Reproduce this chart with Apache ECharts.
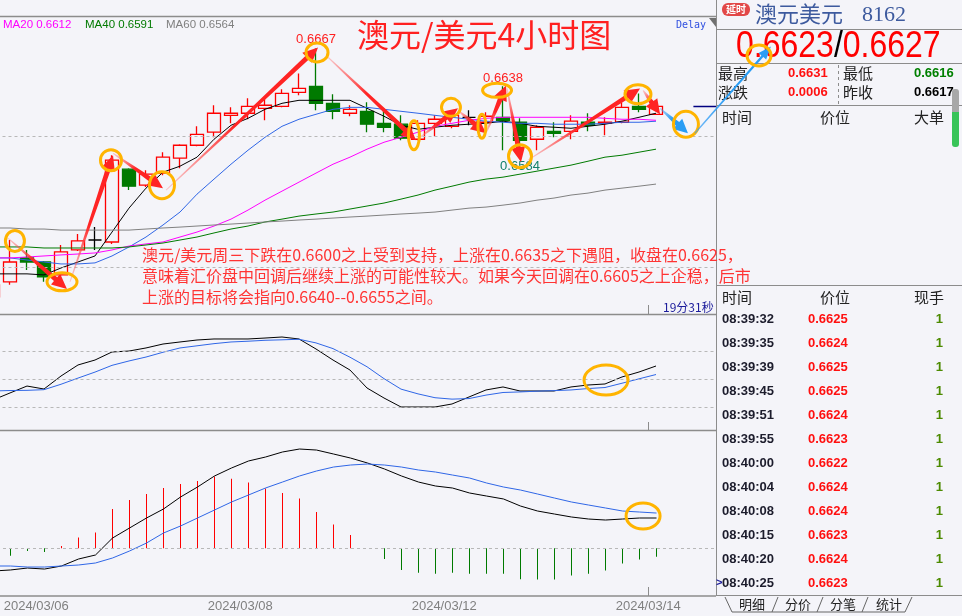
<!DOCTYPE html>
<html><head><meta charset="utf-8">
<script src="https://cdn.jsdelivr.net/npm/echarts@6/dist/echarts.min.js"></script>
<style>html,body{margin:0;padding:0;background:#f4f4f9;}#c{width:962px;height:616px;}</style>
</head><body><div id="c"></div>
<script>
// ---------------- data ----------------
const categories = [
 '2024/03/05 20:00',
 '2024/03/06 00:00','2024/03/06 04:00','2024/03/06 08:00','2024/03/06 12:00','2024/03/06 16:00','2024/03/06 20:00',
 '2024/03/07 00:00','2024/03/07 04:00','2024/03/07 08:00','2024/03/07 12:00','2024/03/07 16:00','2024/03/07 20:00',
 '2024/03/08 00:00','2024/03/08 04:00','2024/03/08 08:00','2024/03/08 12:00','2024/03/08 16:00','2024/03/08 20:00',
 '2024/03/11 00:00','2024/03/11 04:00','2024/03/11 08:00','2024/03/11 12:00','2024/03/11 16:00','2024/03/11 20:00',
 '2024/03/12 00:00','2024/03/12 04:00','2024/03/12 08:00','2024/03/12 12:00','2024/03/12 16:00','2024/03/12 20:00',
 '2024/03/13 00:00','2024/03/13 04:00','2024/03/13 08:00','2024/03/13 12:00','2024/03/13 16:00','2024/03/13 20:00',
 '2024/03/14 00:00','2024/03/14 04:00','2024/03/14 08:00','2024/03/14 12:00','2024/03/14 16:00','2024/03/14 20:00'
];
// [open, close, low, high]
const ohlc = [
 [0.64771,0.64863,0.64748,0.64901],
 [0.64886,0.65038,0.64863,0.65206],
 [0.65069,0.65038,0.64977,0.65130],
 [0.65038,0.64924,0.64886,0.65046],
 [0.64939,0.65115,0.64931,0.65168],
 [0.65130,0.65199,0.65122,0.65252],
 [0.65206,0.65206,0.65130,0.65305],
 [0.65191,0.65817,0.65176,0.65855],
 [0.65748,0.65618,0.65588,0.65756],
 [0.65626,0.65710,0.65611,0.65740],
 [0.65718,0.65840,0.65702,0.65878],
 [0.65832,0.65931,0.65756,0.65939],
 [0.65931,0.66015,0.65924,0.66076],
 [0.66031,0.66176,0.65992,0.66237],
 [0.66160,0.66176,0.66099,0.66221],
 [0.66176,0.66229,0.66130,0.66290],
 [0.66214,0.66237,0.66122,0.66298],
 [0.66229,0.66328,0.66221,0.66359],
 [0.66336,0.66366,0.66313,0.66481],
 [0.66382,0.66252,0.66198,0.66672],
 [0.66252,0.66191,0.66130,0.66321],
 [0.66176,0.66206,0.66153,0.66237],
 [0.66191,0.66092,0.66031,0.66260],
 [0.66099,0.66069,0.66031,0.66198],
 [0.66092,0.65985,0.65969,0.66160],
 [0.65977,0.66099,0.65969,0.66122],
 [0.66099,0.66130,0.66000,0.66160],
 [0.66076,0.66160,0.66061,0.66198],
 [0.66145,0.66145,0.66084,0.66198],
 [0.66107,0.66153,0.66046,0.66183],
 [0.66145,0.66122,0.65893,0.66382],
 [0.66107,0.65969,0.65840,0.66137],
 [0.65977,0.66069,0.65893,0.66084],
 [0.66038,0.66023,0.65992,0.66107],
 [0.66038,0.66115,0.65977,0.66160],
 [0.66107,0.66084,0.66038,0.66176],
 [0.66099,0.66107,0.66008,0.66145],
 [0.66107,0.66221,0.66099,0.66260],
 [0.66229,0.66206,0.66183,0.66328],
 [0.66168,0.66229,0.66168,0.66275]
];
const maShort = [0.64947,0.64947,0.64947,0.64939,0.64992,0.65038,0.65084,0.65267,0.65450,0.65603,0.65725,0.65771,0.65840,0.65977,0.66084,0.66137,0.66206,0.66252,0.66275,0.66275,0.66275,0.66275,0.66214,0.66153,0.66084,0.66053,0.66069,0.66084,0.66092,0.66099,0.66115,0.66099,0.66076,0.66069,0.66061,0.66076,0.66092,0.66115,0.66145,0.66176];
const maMid = [0.65069,0.65069,0.65053,0.65038,0.65023,0.65023,0.65031,0.65084,0.65153,0.65229,0.65321,0.65420,0.65557,0.65672,0.65786,0.65893,0.65992,0.66076,0.66130,0.66168,0.66206,0.66221,0.66221,0.66206,0.66191,0.66176,0.66160,0.66145,0.66130,0.66115,0.66107,0.66099,0.66099,0.66092,0.66092,0.66092,0.66099,0.66107,0.66107,0.66115];
const ma20 = [0.65069,0.65069,0.65076,0.65084,0.65092,0.65099,0.65107,0.65130,0.65160,0.65176,0.65191,0.65229,0.65267,0.65313,0.65366,0.65435,0.65511,0.65580,0.65649,0.65718,0.65786,0.65840,0.65901,0.65954,0.65992,0.66031,0.66076,0.66099,0.66122,0.66137,0.66145,0.66145,0.66145,0.66145,0.66145,0.66145,0.66137,0.66130,0.66130,0.66122];
const ma40 = [0.65153,0.65153,0.65153,0.65145,0.65145,0.65145,0.65145,0.65145,0.65153,0.65168,0.65183,0.65206,0.65229,0.65260,0.65290,0.65313,0.65344,0.65366,0.65389,0.65405,0.65420,0.65443,0.65466,0.65489,0.65519,0.65550,0.65588,0.65618,0.65649,0.65672,0.65687,0.65710,0.65733,0.65756,0.65779,0.65809,0.65840,0.65855,0.65878,0.65901];
const ma60 = [0.65298,0.65298,0.65290,0.65290,0.65282,0.65282,0.65282,0.65282,0.65282,0.65290,0.65298,0.65305,0.65313,0.65321,0.65328,0.65336,0.65344,0.65351,0.65359,0.65366,0.65374,0.65382,0.65389,0.65397,0.65405,0.65412,0.65420,0.65435,0.65450,0.65458,0.65473,0.65489,0.65511,0.65527,0.65550,0.65565,0.65588,0.65603,0.65618,0.65634];
const oscFast = [28.1,35.6,43.0,39.8,53.7,65.5,70.8,79.4,80.4,83.7,87.9,90.1,92.2,93.3,93.3,93.3,94.3,95.4,93.3,82.6,70.8,60.1,40.9,30.2,20.6,20.6,20.6,23.8,31.3,38.8,42.0,37.7,37.7,37.7,42.0,44.1,45.2,52.7,58.0,64.4];
const oscSlow = [37.7,38.2,38.4,39.1,44.9,51.5,57.9,65.1,69.8,74.0,79.1,83.7,86.0,88.3,90.1,90.9,91.9,92.4,93.0,89.1,83.0,73.8,63.6,50.9,39.7,34.6,30.5,29.0,29.6,33.3,36.1,36.7,37.5,38.1,38.8,40.3,41.4,46.0,50.7,55.3];
const macdDif = [-0.000360,-0.000344,-0.000313,-0.000329,-0.000281,-0.000170,-0.000106,0.000163,0.000322,0.000481,0.000624,0.000814,0.000973,0.001148,0.001275,0.001386,0.001449,0.001529,0.001576,0.001560,0.001497,0.001433,0.001354,0.001259,0.001148,0.001052,0.000989,0.000957,0.000878,0.000830,0.000783,0.000671,0.000592,0.000544,0.000497,0.000465,0.000449,0.000465,0.000481,0.000481];
const macdDea = [-0.000281,-0.000281,-0.000297,-0.000297,-0.000281,-0.000265,-0.000233,-0.000154,-0.000043,0.000084,0.000243,0.000354,0.000481,0.000608,0.000735,0.000846,0.000957,0.001052,0.001148,0.001227,0.001290,0.001322,0.001338,0.001322,0.001290,0.001243,0.001211,0.001163,0.001116,0.001037,0.000973,0.000925,0.000862,0.000798,0.000735,0.000687,0.000640,0.000592,0.000576,0.000560];
const macdHist = [null,-0.000117,-0.000043,-0.000059,0.000037,0.000170,0.000249,0.000624,0.000767,0.000862,0.000957,0.001021,0.001068,0.001138,0.001106,0.001043,0.000948,0.000878,0.000789,0.000576,0.000376,0.000211,0,-0.000170,-0.000344,-0.000386,-0.000402,-0.000386,-0.000402,-0.000402,-0.000402,-0.000492,-0.000497,-0.000497,-0.000433,-0.000402,-0.000354,-0.000243,-0.000179,-0.000132];
const dateTickIndex = [1,13,25,37];
const priceGridLevels = [0.65,0.66];
const oscGridLevels = [20,50,80];
const macdGridLevels = [0,0.001];
const maLegendNames = ['MA20','MA40','MA60'];
const maLegendValues = ['0.6612','0.6591','0.6564'];
const quoteName = '澳元美元';
const quoteCode = '8162';
const quoteBidAsk = ['0.6623','0.6627'];
const quoteStatLabels = ['最高','最低','涨跌','昨收'];
const quoteStatValues = ['0.6631','0.6616','0.0006','0.6617'];
const tickTimes = ['08:39:32','08:39:35','08:39:39','08:39:45','08:39:51','08:39:55','08:40:00','08:40:04','08:40:08','08:40:15','08:40:20','08:40:25'];
const tickPrices = ['0.6625','0.6624','0.6625','0.6625','0.6624','0.6623','0.6622','0.6624','0.6624','0.6623','0.6624','0.6623'];
const tickVolumes = [1,1,1,1,1,1,1,1,1,1,1,1];
const lastPrice = 0.6623;
const countdownText = '19分31秒';
const titleText = '澳元/美元4小时图';
const commentLines = [
 '澳元/美元周三下跌在0.6600之上受到支持，上涨在0.6635之下遇阻，收盘在0.6625，',
 '意味着汇价盘中回调后继续上涨的可能性较大。如果今天回调在0.6605之上企稳，后市',
 '上涨的目标将会指向0.6640--0.6655之间。'
];
// annotation anchors: [fromIndex, fromPrice, toIndex, toPrice]
const redArrowAnchors = [
 [0.88,0.65221,4.35,0.64832],[4.53,0.64886,7.06,0.65855],[7.06,0.65870,10.0,0.65603],
 [10.18,0.65588,19.12,0.66679],[19.59,0.66618,24.88,0.65969],[25.12,0.65992,27.35,0.66214],
 [27.35,0.66198,29.0,0.66023],[29.0,0.66023,30.18,0.66389],[30.24,0.66366,31.06,0.65802],
 [31.47,0.65817,38.06,0.66366],[38.24,0.66351,39.24,0.66168]
];
const blueArrowAnchors = [[39.24,0.66214,40.88,0.66023],[41.29,0.66023,45.76,0.66687]];
// ring anchors: [index, price]
const priceRingAnchors = [[1.29,0.65199],[4.06,0.64886],[6.94,0.65817],[9.94,0.65626],[19.06,0.66641],[24.76,0.66008],[26.94,0.66221],[28.76,0.66076],[29.65,0.66351],[31.0,0.65847],[37.94,0.66321],[40.76,0.66092],[45.06,0.66618]];
const oscRingAnchor = [36.06,49.4];
const macdRingAnchor = [38.24,0.000513];

// ---------------- styles ----------------
const BG = '#f4f4f9';
const RING_SIZES = [[22,24],[33,21],[24,24],[28,30],[25,22],[14,32],[22,21],[11,27],[32,17],[26,26],[29,22],[28,29],[27,24]];
const CJK = '"Noto Sans CJK SC"';
const N = categories.length;
const GRID_L = -15.5, GRID_W = 17 * N;

const chart = echarts.init(document.getElementById('c'));
const lineS = (name, data, color, xi, yi, extra) => Object.assign({
  type:'line', name, data, xAxisIndex:xi, yAxisIndex:yi, symbol:'none', showSymbol:false, silent:true,
  lineStyle:{color, width:1}, z:3
}, extra || {});
const dashed = {silent:true, symbol:'none', label:{show:false}, lineStyle:{color:'#b8b8b8', type:[3,3], width:1}};
const gridBase = {width:GRID_W, containLabel:false, outerBoundsMode:'none'};

const option = {
  animation:false,
  backgroundColor: BG,
  grid:[
    Object.assign({left:GRID_L, top:16, height:298}, gridBase),
    Object.assign({left:GRID_L, top:314, height:116}, gridBase),
    Object.assign({left:GRID_L + 0.5, top:430, height:166}, gridBase)
  ],
  xAxis:[
    {type:'category', gridIndex:0, data:categories, show:false, boundaryGap:true},
    {type:'category', gridIndex:1, data:categories, show:false, boundaryGap:true},
    {type:'category', gridIndex:2, data:categories, show:false, boundaryGap:true},
    {type:'value', gridIndex:2, min:-0.5, max:N-0.5, position:'bottom',
     axisLine:{show:true, lineStyle:{color:'#8c8c8c', width:1.5}},
     axisTick:{show:false}, splitLine:{show:false},
     axisLabel:{customValues: dateTickIndex.map(i => i - 0.4),
       formatter: v => categories[Math.round(v + 0.4)].slice(0,10),
       align:'left', color:'#808080', fontSize:13, fontFamily:'Liberation Sans', margin:4}}
  ],
  yAxis:[
    {type:'value', gridIndex:0, min:0.6464, max:0.6692, show:false},
    {type:'value', gridIndex:1, min:-4, max:120, show:false},
    {type:'value', gridIndex:2, min:-0.000757, max:0.001878, show:false}
  ],
  series:[
    {type:'candlestick', data:ohlc, xAxisIndex:0, yAxisIndex:0, barWidth:13, silent:true, z:2,
     itemStyle:{color:BG, color0:'#007a00', borderColor:'#ff0000', borderColor0:'#007a00', borderColorDoji:'#000000', borderWidth:1.3},
     markLine:Object.assign({data:priceGridLevels.map(v => ({yAxis:v}))}, dashed)},
    lineS('MA5', maShort, '#000000', 0, 0),
    lineS('MA10', maMid, '#2f66e6', 0, 0),
    lineS('MA20', ma20, '#ff00ff', 0, 0),
    lineS('MA40', ma40, '#007a00', 0, 0),
    lineS('MA60', ma60, '#808080', 0, 0),
    lineS('K', oscFast, '#000000', 1, 1, {markLine:Object.assign({data:oscGridLevels.map(v => ({yAxis:v}))}, dashed)}),
    lineS('D', oscSlow, '#2f66e6', 1, 1),
    {type:'bar', data:macdHist, xAxisIndex:2, yAxisIndex:2, barWidth:1, silent:true, z:2,
     itemStyle:{color: p => (p.value >= 0 ? '#ff0000' : '#007a00')},
     markLine:Object.assign({data:macdGridLevels.map(v => ({yAxis:v}))}, dashed)},
    lineS('DIF', macdDif, '#000000', 2, 2),
    lineS('DEA', macdDea, '#2f66e6', 2, 2)
  ]
};
chart.setOption(option);

// ---------------- annotations ----------------
const X0 = chart.convertToPixel({xAxisIndex:0}, categories[0]);
const STEP = chart.convertToPixel({xAxisIndex:0}, categories[1]) - X0;
const px = i => X0 + i * STEP;
const py = (v, a) => chart.convertToPixel({yAxisIndex:a || 0}, v);

const g = [];
const T = (x, y, text, font, fill, align, z, extra) => Object.assign({
  type:'text', x, y, z:z || 70, silent:true,
  style:{text, font, fill, align:align || 'left', verticalAlign:'middle', textAlign:align || 'left', textVerticalAlign:'middle'}
}, extra || {});
const L = (x1, y1, x2, y2, stroke, w, z, dash) => ({type:'line', z:z || 60, silent:true,
  shape:{x1, y1, x2, y2}, style:{stroke, lineWidth:w || 1, lineDash:dash || null}});

function arrow(x0, y0, x1, y1, o) {
  const dx = x1 - x0, dy = y1 - y0, len = Math.hypot(dx, dy);
  const ux = dx / len, uy = dy / len, nx = -uy, ny = ux;
  const H = Math.min(o.head, len * 0.5), W = o.hw;
  const bx = x1 - ux * H, by = y1 - uy * H;
  const pts = [
    [x0 + nx * o.w0 / 2, y0 + ny * o.w0 / 2], [bx + nx * o.w1 / 2, by + ny * o.w1 / 2],
    [bx + nx * W, by + ny * W], [x1, y1], [bx - nx * W, by - ny * W],
    [bx - nx * o.w1 / 2, by - ny * o.w1 / 2], [x0 - nx * o.w0 / 2, y0 - ny * o.w0 / 2]
  ];
  return {type:'polygon', z:o.z || 80, silent:true, shape:{points:pts},
    style:{fill:new echarts.graphic.LinearGradient(x0, y0, x1, y1,
      [{offset:0, color:o.c0}, {offset:0.45, color:o.c1}, {offset:1, color:o.c1}], true)}};
}
const ring = (cx, cy, w, h, z) => ({type:'ellipse', z:z || 82, silent:true,
  shape:{cx, cy, rx:(w - 3) / 2, ry:(h - 3) / 2}, style:{fill:'none', stroke:'#ffb400', lineWidth:3}});

// right panel background + frame
g.push({type:'rect', z:50, silent:true, shape:{x:716, y:0, width:246, height:616}, style:{fill:BG}});
g.push(L(0, 16.5, 716, 16.5, '#8c8c8c', 1.5, 55));
g.push(L(0, 314.5, 716, 314.5, '#8c8c8c', 1.5, 55));
g.push(L(0, 430.5, 716, 430.5, '#8c8c8c', 1.5, 55));
g.push(L(716.5, 0, 716.5, 596, '#8c8c8c', 1, 60));
[29.5, 63.5, 105.5, 285.5, 595.5].forEach(y => g.push(L(716, y, 962, y, '#8c8c8c', 1, 60)));
g.push(L(838.5, 65, 838.5, 104, '#8c8c8c', 1, 60, [3, 3]));
g.push({type:'polygon', z:60, silent:true, shape:{points:[[709,18],[716,18],[716,27]]}, style:{fill:'#707070'}});

// current-time markers
const tx = Math.round(px(38.5)) + 0.5;
g.push(L(tx, 305, tx, 314, '#8c8c8c', 1, 55));
g.push(L(tx, 422, tx, 430, '#8c8c8c', 1, 55));
g.push(L(tx, 587, tx, 596, '#8c8c8c', 1, 55));
g.push(T(663, 307, countdownText, '12px ' + CJK, '#1a1a9a', 'left', 45));
// last price marker
g.push(L(px(41.2), Math.round(py(lastPrice)) + 0.5, 716, Math.round(py(lastPrice)) + 0.5, '#000080', 1.5, 45));

// legend, title
const lx = [3, 85, 166];
const legendColors = ['#ff00ff', '#007a00', '#808080'];
maLegendNames.forEach((n, i) => g.push(T(lx[i], 25, n + ' ' + maLegendValues[i], '11.5px "Liberation Sans"', legendColors[i], 'left', 65)));
g.push(T(357, 35, titleText, '32px ' + CJK, '#ff2020', 'left', 65));
g.push(T(676, 25, 'Delay', '10px "DejaVu Sans Mono"', '#3050e0', 'left', 65));

// price labels
const highs = ohlc.map(d => d[3]);
const hiIdx = highs.indexOf(Math.max(...highs));
g.push(T(px(hiIdx), py(ohlc[hiIdx][3]) - 9, ohlc[hiIdx][3].toFixed(4), '13px "Liberation Sans"', '#ff2020', 'center', 66));
g.push(T(px(30), py(ohlc[30][3]) - 8, ohlc[30][3].toFixed(4), '13px "Liberation Sans"', '#ff2020', 'center', 66));
g.push(T(px(31), py(ohlc[31][2]) + 9, ohlc[31][2].toFixed(4), '13px "Liberation Sans"', '#12806a', 'center', 66));

// right panel content
g.push({type:'rect', z:70, silent:true, shape:{x:722, y:3, width:28, height:13, r:6}, style:{fill:'#e24848'}});
g.push(T(736, 9.5, '延时', 'bold 10px ' + CJK, '#ffffff', 'center', 71));
g.push(T(755, 14, quoteName, '22px ' + CJK, '#3d5a9e', 'left', 70));
g.push(T(862, 15, quoteCode, '22px "Liberation Serif"', '#3d5a9e', 'left', 70));
const mc = document.createElement('canvas').getContext('2d');
const bigFont = '32px "Liberation Sans"';
mc.font = bigFont;
const w1 = mc.measureText(quoteBidAsk[0]).width, wS = mc.measureText('/').width;
const big = {scaleY:1.15};
g.push(T(736, 47, quoteBidAsk[0], bigFont, '#ff0000', 'left', 70, big));
g.push(T(736 + w1, 47, '/', bigFont, '#000000', 'left', 70, big));
g.push(T(736 + w1 + wS, 47, quoteBidAsk[1], bigFont, '#ff0000', 'left', 70, big));
const statPos = [[718, 788, 73], [843, 914, 73], [718, 788, 92], [843, 914, 92]];
const statColors = ['#ff1010', '#008000', '#ff1010', '#000000'];
quoteStatLabels.forEach((s, i) => {
  g.push(T(statPos[i][0], statPos[i][2], s, '15px ' + CJK, '#222222', 'left', 70));
  g.push(T(statPos[i][1], statPos[i][2], quoteStatValues[i], 'bold 13px "Liberation Sans"', statColors[i], 'left', 70));
});
g.push(T(722, 117, '时间', '15px ' + CJK, '#222222', 'left', 70));
g.push(T(820, 117, '价位', '15px ' + CJK, '#222222', 'left', 70));
g.push(T(914, 117, '大单', '15px ' + CJK, '#222222', 'left', 70));
g.push({type:'rect', z:70, silent:true, shape:{x:952, y:89, width:7, height:24, r:[3,3,0,0]}, style:{fill:'#a8a8a8'}});
g.push({type:'rect', z:70, silent:true, shape:{x:952, y:112, width:7, height:35, r:[0,0,3,3]}, style:{fill:'#38c458'}});
g.push(T(722, 297, '时间', '15px ' + CJK, '#222222', 'left', 70));
g.push(T(820, 297, '价位', '15px ' + CJK, '#222222', 'left', 70));
g.push(T(914, 297, '现手', '15px ' + CJK, '#222222', 'left', 70));
tickTimes.forEach((t, i) => {
  const y = 319.3 + i * 23.97;
  g.push(T(722, y, t, 'bold 13px "Liberation Sans"', '#1c1c2c', 'left', 70));
  g.push(T(808, y, tickPrices[i], 'bold 13px "Liberation Sans"', '#ff1010', 'left', 70));
  g.push(T(943, y, String(tickVolumes[i]), 'bold 13px "Liberation Sans"', '#4c8a00', 'right', 70));
});
g.push(T(716, 319.3 + 11 * 23.97, '>', 'bold 11px "Liberation Sans"', '#1a1a9a', 'left', 70));
// tabs
g.push({type:'polyline', z:70, silent:true, shape:{points:[[725,597],[732,612],[905,612],[912,597]]}, style:{stroke:'#666666', lineWidth:1, fill:null}});
[772, 817, 862].forEach(x => g.push(L(x, 612, x + 6, 597, '#666666', 1, 70)));
[['明细',752],['分价',798],['分笔',843],['统计',889]].forEach(t => g.push(T(t[1], 604.5, t[0], '13px ' + CJK, '#222222', 'center', 71)));

// commentary text
commentLines.forEach((s, i) => g.push(T(142, [255, 275.5, 297][i], s, '16px ' + CJK, '#ff3434', 'left', 90)));

// arrows
redArrowAnchors.forEach(a => g.push(arrow(px(a[0]), py(a[1]), px(a[2]), py(a[3]),
  {head:15, hw:7, w0:1, w1:5, c0:'rgba(255,120,120,0.35)', c1:'#ff2424'})));
g.push(arrow(px(blueArrowAnchors[0][0]), py(blueArrowAnchors[0][1]), px(blueArrowAnchors[0][2]), py(blueArrowAnchors[0][3]),
  {head:14, hw:7, w0:1, w1:5, c0:'rgba(60,160,245,0.4)', c1:'#2a9df4'}));
g.push(arrow(px(blueArrowAnchors[1][0]), py(blueArrowAnchors[1][1]), px(blueArrowAnchors[1][2]), py(blueArrowAnchors[1][3]),
  {head:13, hw:5, w0:1.2, w1:2.5, c0:'rgba(60,160,245,0.7)', c1:'#2a9df4', z:85}));

// rings
priceRingAnchors.forEach((r, i) => g.push(ring(px(r[0]), py(r[1]), RING_SIZES[i][0], RING_SIZES[i][1], i === 12 ? 86 : 82)));
g.push(ring(px(oscRingAnchor[0]), py(oscRingAnchor[1], 1), 47, 33));
g.push(ring(px(macdRingAnchor[0]), py(macdRingAnchor[1], 2), 37, 29));

chart.setOption({graphic:{elements:g}});
</script>
</body></html>
